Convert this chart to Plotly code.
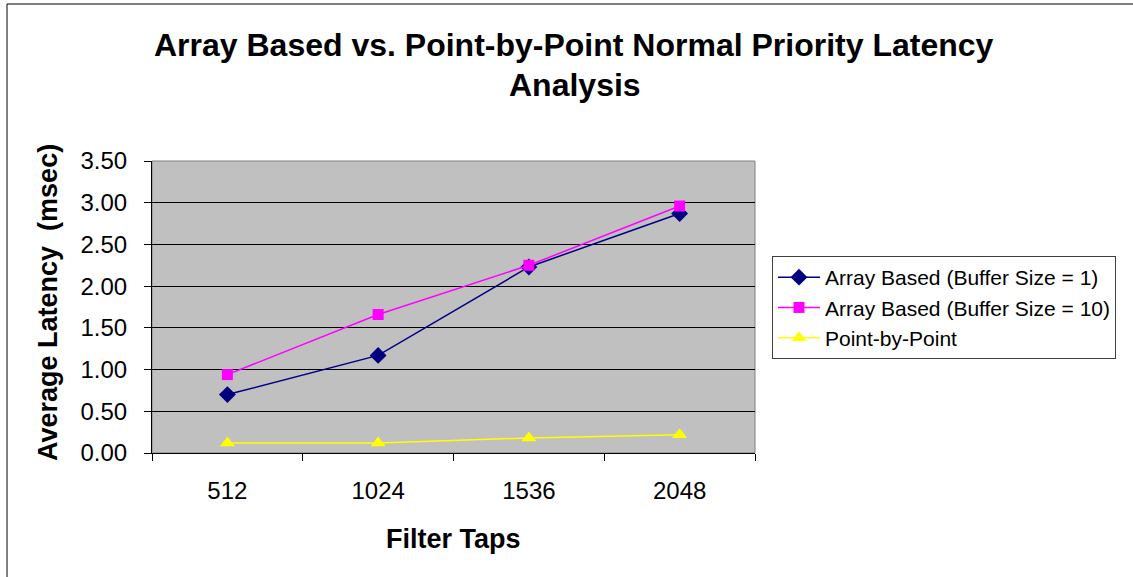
import plotly.graph_objects as go

categories = ["512", "1024", "1536", "2048"]
array_buf1 = [0.70, 1.17, 2.23, 2.87]
array_buf10 = [0.94, 1.66, 2.25, 2.96]
point_by_point = [0.12, 0.12, 0.18, 0.22]
series_names = ["Array Based (Buffer Size = 1)", "Array Based (Buffer Size = 10)", "Point-by-Point"]
y_ticks = [0.0, 0.5, 1.0, 1.5, 2.0, 2.5, 3.0, 3.5]

W, H = 1133, 577
L, R, T, B = 152, 755, 161, 453

def px(x):
    return (x - L) / (R - L)

def py(y):
    return (B - y) / (B - T)

FONT = "Liberation Sans, Arial, sans-serif"

fig = go.Figure()
fig.add_trace(go.Scatter(x=categories, y=array_buf1, name=series_names[0], mode="lines+markers",
                         line=dict(color="#000080", width=1.5),
                         marker=dict(symbol="diamond", size=13, color="#000080")))
fig.add_trace(go.Scatter(x=categories, y=array_buf10, name=series_names[1], mode="lines+markers",
                         line=dict(color="#FF00FF", width=1.5),
                         marker=dict(symbol="square", size=11, color="#FF00FF")))
fig.add_trace(go.Scatter(x=categories, y=point_by_point, name=series_names[2], mode="lines+markers",
                         line=dict(color="#FFFF00", width=1.5),
                         marker=dict(symbol="triangle-up", size=13, color="#FFFF00")))

fig.update_layout(
    width=W, height=H,
    margin=dict(l=L, r=W - R, t=T, b=H - B, pad=0),
    paper_bgcolor="white",
    plot_bgcolor="#C0C0C0",
    font=dict(family=FONT, color="black"),
    showlegend=True,
    legend=dict(x=px(772), y=py(256), xanchor="left", yanchor="top",
                bgcolor="white", bordercolor="#404040", borderwidth=1,
                font=dict(size=21, family=FONT, color="black"),
                itemwidth=42, tracegroupgap=0),
    xaxis=dict(type="category", range=[-0.5, 3.5], showgrid=False,
               showline=True, linecolor="black", linewidth=1,
               ticks="outside", tickson="boundaries", ticklen=7, tickcolor="black",
               tickfont=dict(size=24, family=FONT), ticklabelstandoff=16, zeroline=False),
    yaxis=dict(range=[0, 3.5], tickvals=y_ticks, tickformat=".2f",
               showgrid=True, gridcolor="black", gridwidth=1,
               showline=True, linecolor="black", linewidth=1,
               ticks="outside", ticklen=7, tickcolor="black",
               tickfont=dict(size=24, family=FONT), ticklabelstandoff=12, zeroline=False),
    shapes=[
        dict(type="rect", xref="paper", yref="paper", x0=0, x1=1, y0=0, y1=1,
             line=dict(color="#808080", width=1), fillcolor="rgba(0,0,0,0)", layer="below"),
        dict(type="rect", xref="paper", yref="paper", x0=px(7), x1=px(W + 20), y0=py(H + 20), y1=py(4),
             line=dict(color="black", width=1), fillcolor="rgba(0,0,0,0)"),
    ],
    annotations=[
        dict(text="<b>Array Based vs. Point-by-Point Normal Priority Latency</b>", xref="paper", yref="paper",
             x=px(574), y=py(45), xanchor="center", yanchor="middle", showarrow=False,
             font=dict(size=32, family=FONT)),
        dict(text="<b>Analysis</b>", xref="paper", yref="paper",
             x=px(575), y=py(85), xanchor="center", yanchor="middle", showarrow=False,
             font=dict(size=32, family=FONT)),
        dict(text="<b>Filter Taps</b>", xref="paper", yref="paper",
             x=px(453), y=py(539), xanchor="center", yanchor="middle", showarrow=False,
             font=dict(size=27, family=FONT)),
        dict(text="<b>Average Latency  (msec)</b>", xref="paper", yref="paper",
             x=px(48), y=py(303), xanchor="center", yanchor="middle", showarrow=False,
             textangle=-90, font=dict(size=27, family=FONT)),
    ],
)

fig.write_html("out.html")
